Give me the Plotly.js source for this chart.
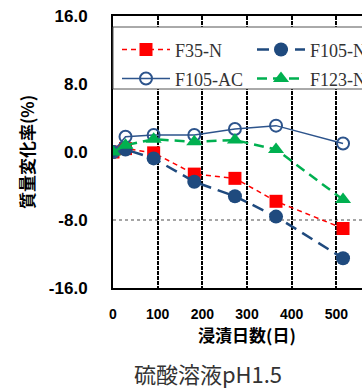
<!DOCTYPE html>
<html>
<head>
<meta charset="utf-8">
<script src="https://cdn.plot.ly/plotly-3.0.1.min.js"></script>
<style>
  html, body { margin: 0; padding: 0; width: 362px; height: 390px; overflow: hidden; background: #fff; }
  #chart { width: 440px; height: 390px; }
</style>
</head>
<body>
<div id="chart"></div>
<script>
// ---- data ----
const days = [0, 28, 91, 182, 273, 365, 515];
const f35n = [0, 0.4, -0.1, -2.6, -3.1, -5.8, -9.0];
const f105n = [0, 0.3, -0.75, -3.5, -5.2, -7.6, -12.5];
const f105ac = [0, 1.8, 2.0, 2.0, 2.7, 3.1, 1.0];
const f123n = [0, 0.8, 1.5, 1.2, 1.4, 0.3, -5.6];
const seriesNames = ['F35-N', 'F105-N', 'F105-AC', 'F123-N'];
const xTicks = [0, 100, 200, 300, 400, 500];
const yTicks = [-16, -8, 0, 8, 16];
const yTickText = ['-16.0', '-8.0', '0.0', '8.0', '16.0'];
const xTitle = '浸漬日数(日)';
const yTitle = '質量変化率(%)';
const chartTitle = '硫酸溶液pH1.5';

const W = 440, H = 390;
const plotTop = 16, plotBottom = 288, plotLeft = 113, plotRight = 381;
const plotH = plotBottom - plotTop, plotW = plotRight - plotLeft;
const navy = '#1f4a7e';
const legendName = n => '<span style="font-size:18px">' + n + '</span>';

const traces = [
  {
    x: days, y: f35n, name: legendName(seriesNames[0]), type: 'scatter', mode: 'lines+markers',
    line: { color: '#ff0000', width: 1.5, dash: '5px,4px' },
    marker: { symbol: 'square', size: 13, color: '#ff0000' }
  },
  {
    x: days, y: f105n, name: legendName(seriesNames[1]), type: 'scatter', mode: 'lines+markers',
    line: { color: navy, width: 2.5, dash: '12px,7px' },
    marker: { symbol: 'circle', size: 14, color: navy }
  },
  {
    x: days, y: f105ac, name: legendName(seriesNames[2]), type: 'scatter', mode: 'lines+markers',
    line: { color: '#2d548c', width: 1.5 },
    marker: { symbol: 'circle-open', size: 12, color: '#2d548c', line: { width: 2, color: '#2d548c' } }
  },
  {
    x: days, y: f123n, name: legendName(seriesNames[3]), type: 'scatter', mode: 'lines+markers',
    line: { color: '#00b050', width: 2.5, dash: '10px,6px' },
    marker: { symbol: 'triangle-up', size: 14, color: '#00b050' }
  }
];

const layout = {
  width: W, height: H,
  margin: { l: plotLeft, r: W - plotRight, t: plotTop, b: H - plotBottom, pad: 0, autoexpand: false },
  paper_bgcolor: '#ffffff', plot_bgcolor: '#ffffff',
  showlegend: true,
  title: {
    text: chartTitle,
    font: { family: 'Noto Sans CJK JP, sans-serif', size: 22, color: '#333' },
    xref: 'container', yref: 'container',
    x: 208 / W, xanchor: 'center', y: 1 - 375 / H, yanchor: 'middle'
  },
  xaxis: {
    range: [0, 600], tickvals: xTicks, ticktext: xTicks.map(String),
    showgrid: true, gridcolor: '#000', gridwidth: 2, griddash: '4px,1px',
    showline: true, linecolor: '#000', linewidth: 2, mirror: true,
    zeroline: false, ticks: '', ticklabelstandoff: 12,
    tickfont: { family: 'Liberation Sans, Arial, sans-serif', size: 14, color: '#000', weight: 'bold' },
    title: { text: xTitle, standoff: 6, font: { family: 'Noto Sans CJK JP, sans-serif', size: 17, color: '#000', weight: 'bold' } }
  },
  yaxis: {
    range: [-16, 16], tickvals: yTicks, ticktext: yTickText,
    showgrid: false, zeroline: false,
    showline: true, linecolor: '#000', linewidth: 2, mirror: true,
    ticks: '', ticklabelstandoff: 20,
    tickfont: { family: 'Liberation Sans, Arial, sans-serif', size: 17, color: '#000', weight: 'bold' },
    title: { text: yTitle, standoff: 10, font: { family: 'Noto Sans CJK JP, sans-serif', size: 17, color: '#000', weight: 'bold' } }
  },
  shapes: [
    { type: 'line', xref: 'paper', yref: 'y', x0: 0, x1: 1, y0: -8, y1: -8,
      line: { color: '#888', width: 1.5, dash: 'dot' }, layer: 'below' },
    { type: 'rect', xref: 'paper', yref: 'paper', x0: 0, x1: 1.3,
      y0: (plotBottom - 89) / plotH, y1: (plotBottom - 27) / plotH,
      fillcolor: '#ffffff', line: { color: '#555', width: 1 }, layer: 'above' }
  ],
  legend: {
    orientation: 'h',
    xref: 'paper', yref: 'paper',
    x: 4 / plotW, xanchor: 'left', y: (plotBottom - 30) / plotH, yanchor: 'top',
    bgcolor: 'rgba(0,0,0,0)', borderwidth: 0,
    itemwidth: 48, entrywidth: 72, traceorder: 'normal',
    font: { family: 'Liberation Serif, serif', size: 20, color: '#333' }
  }
};

Plotly.newPlot('chart', traces, layout, { displayModeBar: false, staticPlot: true });
</script>
</body>
</html>
